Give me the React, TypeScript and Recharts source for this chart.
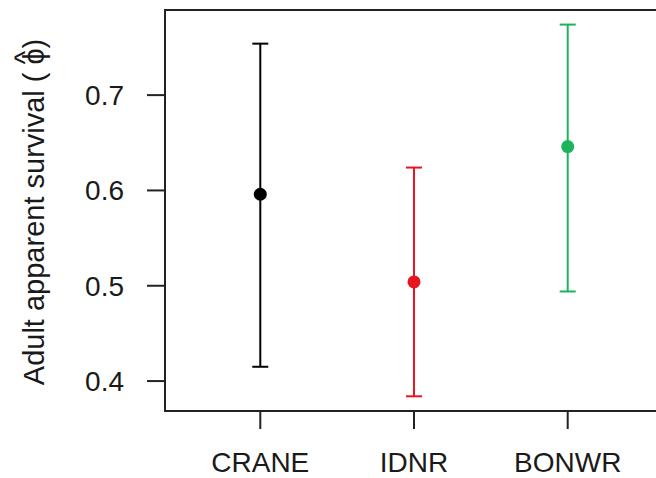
import React from 'react';
import { ScatterChart, Scatter, XAxis, YAxis, ErrorBar, ReferenceArea, Customized } from 'recharts';

const categories = ['CRANE', 'IDNR', 'BONWR'];
const estimates = [0.596, 0.504, 0.646];
const lowerCI = [0.415, 0.384, 0.494];
const upperCI = [0.754, 0.624, 0.774];
const colors = ['#000000', '#e8141e', '#1db35a'];
const yTicks = [0.4, 0.5, 0.6, 0.7];
const xTicks = [1, 2, 3];
const xDomain: [number, number] = [0.38, 3.62];
const yDomain: [number, number] = [0.3686, 0.7893];

const FONT = '"Liberation Sans", Arial, Helvetica, sans-serif';

const seriesData = categories.map((c, i) => [
  {
    x: i + 1,
    y: estimates[i],
    err: [estimates[i] - lowerCI[i], upperCI[i] - estimates[i]],
    name: c,
  },
]);

const YLabel = () => {
  const cx = 44;
  const cy = 212;
  return (
    <text
      x={cx}
      y={cy}
      transform={`rotate(-90, ${cx}, ${cy})`}
      textAnchor="middle"
      fontFamily={FONT}
      fontSize={29}
      fill="#1a1a1a"
    >
      <tspan>Adult apparent survival ( </tspan>
      <tspan>ϕ</tspan>
      <tspan dx="-0.56em" dy="-0.32em">^</tspan>
      <tspan dx="0.08em" dy="0.32em">)</tspan>
    </text>
  );
};

export default function App() {
  return (
    <div
      style={{
        position: 'fixed',
        left: 0,
        top: 0,
        width: 656,
        height: 478,
        overflow: 'hidden',
        background: '#fff',
      }}
    >
      <ScatterChart width={700} height={478} margin={{ top: 10, right: 37, bottom: 0, left: 0 }}>
        <XAxis
          type="number"
          dataKey="x"
          domain={xDomain}
          ticks={xTicks}
          allowDataOverflow
          interval={0}
          tickFormatter={(v: number) => categories[v - 1] ?? ''}
          axisLine={false}
          tickSize={18}
          tickMargin={23}
          tickLine={{ stroke: '#222', strokeWidth: 2 }}
          tick={{ fontSize: 28, fill: '#1a1a1a', fontFamily: FONT }}
          height={67}
        />
        <YAxis
          type="number"
          dataKey="y"
          domain={yDomain}
          ticks={yTicks}
          allowDataOverflow
          interval={0}
          tickFormatter={(v: number) => v.toFixed(1)}
          axisLine={false}
          tickSize={18}
          tickMargin={23}
          tickLine={{ stroke: '#222', strokeWidth: 2 }}
          tick={{ fontSize: 28, fill: '#1a1a1a', fontFamily: FONT }}
          width={165}
        />
        <ReferenceArea
          x1={xDomain[0]}
          x2={xDomain[1]}
          y1={yDomain[0]}
          y2={yDomain[1]}
          fill="none"
          fillOpacity={0}
          stroke="#222"
          strokeWidth={2}
          ifOverflow="visible"
        />
        {seriesData.map((d, i) => (
          <Scatter
            key={categories[i]}
            data={d}
            isAnimationActive={false}
            shape={(p: any) => <circle cx={p.cx} cy={p.cy} r={6.5} fill={colors[i]} />}
          >
            <ErrorBar
              dataKey="err"
              direction="y"
              width={8}
              stroke={colors[i]}
              strokeWidth={2}
              isAnimationActive={false}
            />
          </Scatter>
        ))}
        <Customized component={YLabel} />
      </ScatterChart>
    </div>
  );
}
